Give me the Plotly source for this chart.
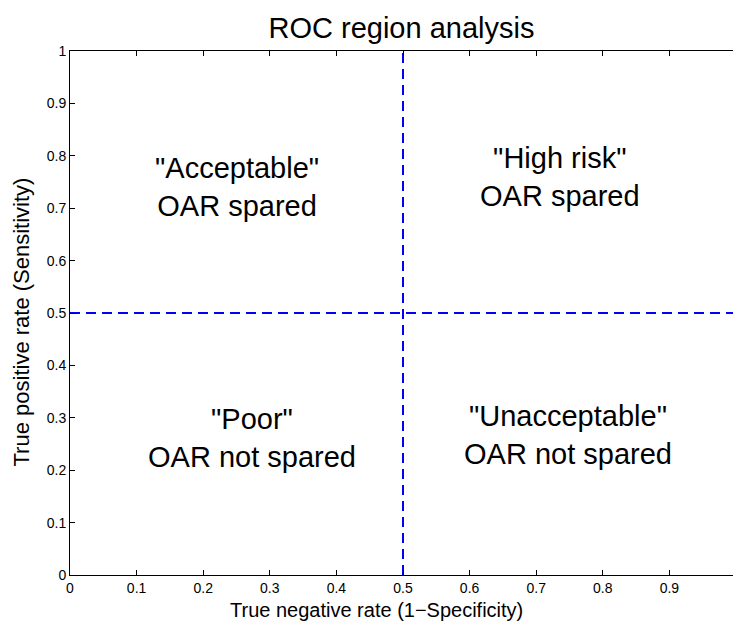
import plotly.graph_objects as go

# Decision thresholds splitting the ROC plane into four regions
tnr_threshold = 0.5
tpr_threshold = 0.5

# Region labels and where they sit (x = true negative rate, y = true positive rate)
region_labels = ['"Acceptable"<br>OAR spared', '"High risk"<br>OAR spared',
                 '"Poor"<br>OAR not spared', '"Unacceptable"<br>OAR not spared']
region_x = [0.25, 0.735, 0.273, 0.748]
region_y = [0.74, 0.76, 0.262, 0.268]

x_ticks = [0, 0.1, 0.2, 0.3, 0.4, 0.5, 0.6, 0.7, 0.8, 0.9]
x_tick_labels = ["0", "0.1", "0.2", "0.3", "0.4", "0.5", "0.6", "0.7", "0.8", "0.9"]
y_ticks = [0, 0.1, 0.2, 0.3, 0.4, 0.5, 0.6, 0.7, 0.8, 0.9, 1]
y_tick_labels = ["0", "0.1", "0.2", "0.3", "0.4", "0.5", "0.6", "0.7", "0.8", "0.9", "1"]

FONT = "Liberation Sans, Arial, Helvetica, sans-serif"
BLUE = "#0000ff"

fig = go.Figure()

# Vertical threshold line
fig.add_trace(go.Scatter(
    x=[tnr_threshold, tnr_threshold], y=[0, 1], mode="lines",
    line=dict(color=BLUE, width=2, dash="10px,6px"), hoverinfo="skip", showlegend=False,
))
# Horizontal threshold line
fig.add_trace(go.Scatter(
    x=[0, 1], y=[tpr_threshold, tpr_threshold], mode="lines",
    line=dict(color=BLUE, width=2, dash="10px,6px"), hoverinfo="skip", showlegend=False,
))

annotations = []
for txt, x, y in zip(region_labels, region_x, region_y):
    annotations.append(dict(
        x=x, y=y, xref="x", yref="y", text=txt, showarrow=False,
        align="center", font=dict(family=FONT, size=29, color="black"),
    ))

# Axis titles
annotations.append(dict(
    x=0.463, y=-0.066, xref="paper", yref="paper", xanchor="center", yanchor="middle",
    text="True negative rate (1\u2212Specificity)", showarrow=False,
    font=dict(family=FONT, size=20, color="black"),
))
annotations.append(dict(
    x=-0.073, y=0.483, xref="paper", yref="paper", xanchor="center", yanchor="middle",
    text="True positive rate (Sensitivity)", showarrow=False, textangle=-90,
    font=dict(family=FONT, size=22, color="black"),
))

fig.update_layout(
    width=733, height=623,
    margin=dict(l=70, r=0, t=51, b=48),
    paper_bgcolor="white", plot_bgcolor="white",
    title=dict(text="ROC region analysis", x=0.5, xref="paper", xanchor="center",
               y=1 - 28 / 623, yref="container", yanchor="middle",
               font=dict(family=FONT, size=29, color="black")),
    annotations=annotations,
    showlegend=False,
)

fig.update_xaxes(
    range=[0, 0.9955], tickmode="array", tickvals=x_ticks, ticktext=x_tick_labels,
    showgrid=False, zeroline=False, showline=True, linecolor="black", linewidth=1,
    mirror="ticks", ticks="inside", ticklen=5, tickcolor="black",
    tickfont=dict(family=FONT, size=14, color="black"),
)
fig.update_yaxes(
    range=[0, 1], tickmode="array", tickvals=y_ticks, ticktext=y_tick_labels,
    showgrid=False, zeroline=False, showline=True, linecolor="black", linewidth=1,
    mirror=False, ticks="inside", ticklen=5, tickcolor="black",
    tickfont=dict(family=FONT, size=14, color="black"),
)

fig.write_html("out.html")
